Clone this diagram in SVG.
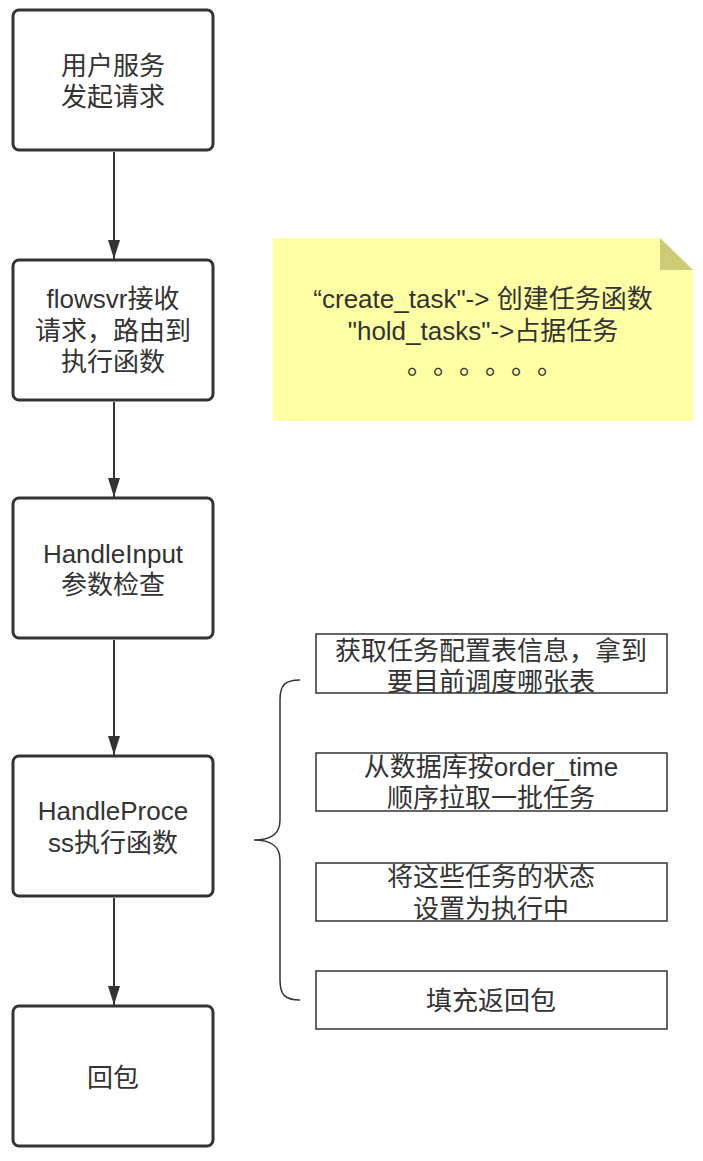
<svg xmlns="http://www.w3.org/2000/svg" width="703" height="1161" viewBox="0 0 703 1161">
<defs>
<style>
.t{font-family:"Liberation Sans","Noto Sans CJK SC",sans-serif;font-size:26px;fill:#333;text-anchor:middle}
.b{fill:#fff;stroke:#333;stroke-width:3}
.s{fill:#fff;stroke:#333;stroke-width:1.5}
.c{fill:none;stroke:#333;stroke-width:2}
</style>
<marker id="arr" viewBox="0 0 19 12" refX="19" refY="6" markerWidth="19" markerHeight="12" markerUnits="userSpaceOnUse" orient="auto">
<path d="M0,0 L19,6 L0,12 Z" fill="#333"/>
</marker>
</defs>
<rect width="703" height="1161" fill="#fff"/>
<g id="connectors">
<line class="c" x1="114" y1="152" x2="114" y2="259" marker-end="url(#arr)"/>
<line class="c" x1="114" y1="402" x2="114" y2="497" marker-end="url(#arr)"/>
<line class="c" x1="114" y1="640" x2="114" y2="755" marker-end="url(#arr)"/>
<line class="c" x1="114" y1="898" x2="114" y2="1005" marker-end="url(#arr)"/>
<path fill="none" stroke="#333" stroke-width="1.5" d="M300,680 C285,680 280,685 280,700 L280,820 C280,835 270,840 254,840 C270,840 280,845 280,860 L280,980 C280,995 285,1000 300,1000"/>
</g>
<g id="n1"><rect class="b" x="13" y="10" width="200" height="140" rx="6"/>
<text class="t" x="113" y="75">用户服务</text><text class="t" x="113" y="106">发起请求</text></g>
<g id="n2"><rect class="b" x="13" y="260" width="200" height="140" rx="6"/>
<text class="t" x="113" y="308">flowsvr接收</text><text class="t" x="113" y="340">请求，路由到</text><text class="t" x="113" y="371">执行函数</text></g>
<g id="n3"><rect class="b" x="13" y="498" width="200" height="140" rx="6"/>
<text class="t" x="113" y="563">HandleInput</text><text class="t" x="113" y="594">参数检查</text></g>
<g id="n4"><rect class="b" x="13" y="756" width="200" height="140" rx="6"/>
<text class="t" x="113" y="820">HandleProce</text><text class="t" x="113" y="852">ss执行函数</text></g>
<g id="n5"><rect class="b" x="13" y="1006" width="200" height="140" rx="6"/>
<text class="t" x="113" y="1087">回包</text></g>
<g id="note">
<path d="M273,238 L660,238 L693,270 L693,421 L273,421 Z" fill="#ffffa6"/>
<path d="M660,238 L693,270 L660,270 Z" fill="#cccc77"/>
<text class="t" x="483" y="308" font-size="26.5">“create_task"-&gt; 创建任务函数</text>
<text class="t" x="483" y="340" font-size="26.5">"hold_tasks"-&gt;占据任务</text>
<text class="t" x="420 446 472 498 524 550" y="374">。。。。。。</text>
</g>
<g id="s1"><rect class="s" x="316" y="634" width="351" height="59"/>
<text class="t" x="491" y="660">获取任务配置表信息，拿到</text><text class="t" x="491" y="691">要目前调度哪张表</text></g>
<g id="s2"><rect class="s" x="316" y="753" width="351" height="58"/>
<text class="t" x="491" y="776">从数据库按order_time</text><text class="t" x="491" y="807">顺序拉取一批任务</text></g>
<g id="s3"><rect class="s" x="316" y="863" width="351" height="58"/>
<text class="t" x="491" y="886">将这些任务的状态</text><text class="t" x="491" y="918">设置为执行中</text></g>
<g id="s4"><rect class="s" x="316" y="971" width="351" height="58"/>
<text class="t" x="491" y="1010">填充返回包</text></g>
</svg>
